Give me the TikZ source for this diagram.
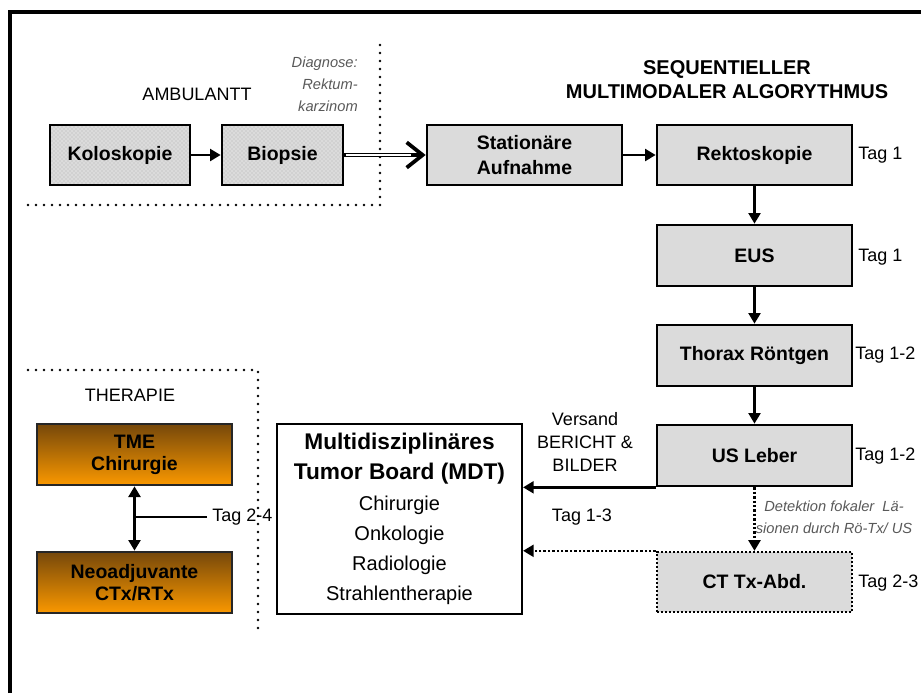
\documentclass[tikz,border=0pt]{standalone}
\usepackage{fontspec}
\setmainfont{Liberation Sans}
\usetikzlibrary{arrows.meta,patterns}

\colorlet{boxgray}{black!14}
\colorlet{notegray}{black!65}
\definecolor{tmetop}{RGB}{118,72,10}
\definecolor{tmemid}{RGB}{226,134,4}
\definecolor{tmebot}{RGB}{250,152,0}

\tikzset{
  graybox/.style={draw, line width=2pt, fill=boxgray, align=center, inner sep=0,
                  font=\fontsize{14.6}{18.5}\selectfont\bfseries},
  dotbox/.style={graybox, preaction={fill=boxgray}, pattern=crosshatch dots,
                 pattern color=black!30},
  ctbox/.style={graybox, draw, dash pattern=on 1.6pt off 1.4pt, line width=1.8pt},
  tmebox/.style={graybox, draw=black!85, top color=tmetop, middle color=tmemid,
                 bottom color=tmebot, font=\fontsize{14.6}{16.5}\selectfont\bfseries},
  mdtbox/.style={draw, line width=1.6pt, fill=white, align=center, inner sep=0,
                 minimum width=183.75pt, minimum height=142.5pt,
                 font=\fontsize{15}{22.6}\selectfont},
  flow arrow/.style={-{Triangle[length=8pt,width=9pt]}, line width=1.8pt},
  dot arrow/.style={flow arrow, dash pattern=on 1.8pt off 1.5pt},
  sep line/.style={line width=2.2pt, line cap=round, dash pattern=on 0pt off 6pt},
  tag label/.style={anchor=west, inner sep=0, font=\fontsize{13.5}{16}\selectfont},
  plain text/.style={align=center, inner sep=0, font=\fontsize{13.5}{17}\selectfont},
  note text/.style={inner sep=0, text=notegray, font=\fontsize{11}{16.5}\selectfont\itshape},
}

\begin{document}
\begin{tikzpicture}[x=0.75pt, y=-0.75pt]
  % 1 unit = 1 px of the 921 x 693 layout, y counts downward
  \useasboundingbox (0,0) rectangle (921,693);

  % ---- frame (left and top only) ----
  \draw[line width=2.3pt] (10,693) -- (10,12) -- (921,12);

  % ---- separators ----
  \draw[sep line] (28,205) -- (380,205) -- (380,45);
  \draw[sep line] (28,370) -- (258,370) -- (258,630);

  % ---- headings ----
  \node[plain text] (amb) at (197,94) {AMBULANTT};
  \node[note text, anchor=east, align=right] (diag) at (358,84) {Diagnose:\\Rektum-\\karzinom};
  \node[plain text, font=\fontsize{15}{18}\selectfont\bfseries] (title) at (727,80)
       {SEQUENTIELLER\\MULTIMODALER ALGORYTHMUS};
  \node[plain text] (ther) at (130,395) {THERAPIE};

  % ---- ambulant row ----
  \node[dotbox, minimum width=105pt, minimum height=45pt] (kolo) at (120,155) {Koloskopie};
  \node[dotbox, minimum width=90.75pt, minimum height=45pt] (biop) at (282.5,155) {Biopsie};

  % ---- stationary sequence ----
  \node[graybox, minimum width=146.25pt, minimum height=45pt] (stat) at (524.5,155) {Stationäre\\Aufnahme};
  \node[graybox, minimum width=146.25pt, minimum height=45pt] (rekt) at (754.5,155) {Rektoskopie};
  \node[graybox, minimum width=146.25pt, minimum height=45.75pt] (eus) at (754.5,255.5) {EUS};
  \node[graybox, minimum width=146.25pt, minimum height=45.75pt] (thor) at (754.5,355.5) {Thorax Röntgen};
  \node[graybox, minimum width=146.25pt, minimum height=45.75pt] (usl) at (754.5,455.5) {US Leber};
  \node[ctbox, minimum width=146.25pt, minimum height=45pt] (ct) at (754.5,582) {CT Tx-Abd.};

  % ---- day labels ----
  \node[tag label] (t1) at (858,155) {Tag 1};
  \node[tag label] (t2) at (858,257) {Tag 1};
  \node[tag label] (t3) at (855,355) {Tag 1-2};
  \node[tag label] (t4) at (855,456) {Tag 1-2};
  \node[tag label] (t5) at (858,583) {Tag 2-3};

  % ---- tumor board ----
  \node[mdtbox] (mdt) at (399.5,519)
       {{\fontsize{17}{22.6}\selectfont\bfseries Multidisziplinäres}\\
        {\fontsize{17}{22.6}\selectfont\bfseries Tumor Board (MDT)}\\
        Chirurgie\\Onkologie\\Radiologie\\Strahlentherapie};
  \node[plain text] (vers) at (585,442) {Versand\\BERICHT \&\\BILDER};
  \node[plain text] (t13) at (582,517) {Tag 1-3};
  \node[note text, align=center] (det) at (834,517) {Detektion fokaler\ \ Lä-\\sionen durch Rö-Tx/ US};

  % ---- therapy ----
  \node[tmebox, minimum width=146.25pt, minimum height=45.75pt] (tme) at (134.5,454.5) {TME\\Chirurgie};
  \node[tmebox, minimum width=146.25pt, minimum height=45.75pt] (neo) at (134.5,582.5) {Neoadjuvante\\CTx/RTx};
  \node[tag label] (t24) at (212,517) {Tag 2-4};

  % ---- connectors ----
  \draw[flow arrow] (kolo) -- (biop);
  \draw[line width=3.4pt, -{Straight Barb[length=12pt,width=19pt,line width=2.8pt]}] (biop) -- (stat);
  \draw[white, line width=1.6pt, shorten <=1.2pt, shorten >=11pt] (biop) -- (stat);
  \draw[flow arrow] (stat) -- (rekt);
  \draw[flow arrow] (rekt) -- (eus);
  \draw[flow arrow] (eus) -- (thor);
  \draw[flow arrow] (thor) -- (usl);
  \draw[flow arrow] (usl.south west) -- (usl.south west -| mdt.east);
  \draw[dot arrow] (usl) -- (ct);
  \draw[dot arrow] (ct.north west) -- (ct.north west -| mdt.east);
  \draw[{Triangle[length=8pt,width=9pt]}-{Triangle[length=8pt,width=9pt]}, line width=1.8pt] (tme) -- (neo);
  \draw[line width=1.8pt] (t24.west) ++(-5,0) -- (t24.west -| tme.south);
\end{tikzpicture}
\end{document}
